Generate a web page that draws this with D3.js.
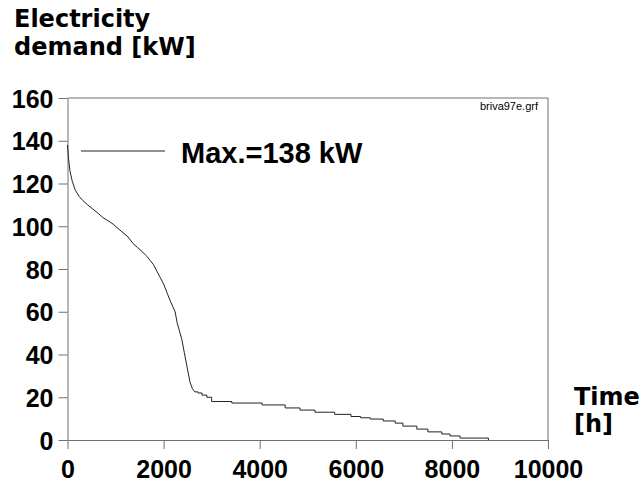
<!DOCTYPE html>
<html>
<head>
<meta charset="utf-8">
<script src="https://cdn.jsdelivr.net/npm/d3@7"></script>
<style>
  html, body { margin: 0; padding: 0; background: #fff; }
  svg { display: block; font-family: "Liberation Sans", Arial, Helvetica, sans-serif; }
  .big { font-weight: bold; fill: #000; }
  .title { font-family: "DejaVu Sans", sans-serif; font-weight: bold; fill: #000; }
</style>
</head>
<body>
<div id="chart"></div>
<script>
// Load duration curve (hours sorted by demand)
const hours = [0, 20, 50, 100, 160, 240, 320, 420, 530, 640, 740, 850, 950, 1050, 1155,
  1260, 1360, 1460, 1560, 1650, 1720, 1790, 1860, 1930, 2000, 2070, 2140, 2200, 2240,
  2280, 2330, 2380, 2430, 2490, 2550, 2600, 2650,
  2720, 2800, 2900, 3000, 3420, 4050, 4530, 4840, 5150, 5560, 5900, 6100, 6300, 6570,
  6820, 6980, 7270, 7500, 7790, 7960, 8170, 8760];
const demand = [138, 132, 126, 121, 117, 114, 112, 110, 108, 106, 104, 102.5, 101, 99, 97,
  95, 92, 90, 88, 86, 84, 82, 79, 76, 73, 69, 65, 62, 60,
  55, 51, 47, 41, 34, 27, 24, 22.5,
  22, 21, 20, 18, 17.3, 16.4, 15, 14, 13, 12, 11, 10.4, 9.8, 8.9,
  7.9, 6.5, 5.1, 3.8, 2.8, 1.9, 0.9, 0];
const stepFrom = 2650; // hourly steps become visible from here on

const xTicks = [0, 2000, 4000, 6000, 8000, 10000];
const yTicks = [0, 20, 40, 60, 80, 100, 120, 140, 160];

const width = 640, height = 489;
const mLeft = 67.5, mRight = 548, mTop = 98, mBottom = 440;
const axisColor = "#707070";

const svg = d3.select("#chart").append("svg")
  .attr("width", width).attr("height", height);

const x = d3.scaleLinear().domain([0, 10000]).range([mLeft, mRight]);
const y = d3.scaleLinear().domain([0, 160]).range([mBottom, mTop]);
const fmt = d3.format("d");

// frame (top + right)
svg.append("path")
  .attr("d", `M${mLeft},${mTop}H${mRight}V${mBottom}`)
  .attr("fill", "none")
  .attr("stroke", axisColor);

// y axis
const gy = svg.append("g")
  .attr("transform", `translate(${mLeft},0)`)
  .call(d3.axisLeft(y).tickValues(yTicks).tickFormat(fmt)
    .tickSize(9).tickPadding(5).tickSizeOuter(0));
gy.select(".domain").attr("stroke", axisColor);
gy.selectAll(".tick line").attr("stroke", axisColor);
gy.selectAll(".tick text")
  .attr("class", "big")
  .attr("font-size", 25)
  .attr("font-family", null)
  .attr("dy", "0.36em");

// x axis
const gx = svg.append("g")
  .attr("transform", `translate(0,${mBottom})`)
  .call(d3.axisBottom(x).tickValues(xTicks).tickFormat(fmt)
    .tickSize(9).tickPadding(4).tickSizeOuter(0));
gx.select(".domain").attr("stroke", axisColor);
gx.selectAll(".tick line").attr("stroke", axisColor);
gx.selectAll(".tick text")
  .attr("class", "big")
  .attr("font-size", 25)
  .attr("font-family", null)
  .attr("y", 38)
  .attr("dy", 0);

// curve
const pts = hours.map((h, i) => ({ h, v: demand[i] }));
const head = pts.filter(d => d.h <= stepFrom);
const tail = pts.filter(d => d.h >= stepFrom);

svg.append("path")
  .datum(head)
  .attr("fill", "none")
  .attr("stroke", "#222")
  .attr("stroke-width", 1)
  .attr("d", d3.line().x(d => x(d.h)).y(d => y(d.v)));

svg.append("path")
  .datum(tail)
  .attr("fill", "none")
  .attr("stroke", "#222")
  .attr("stroke-width", 1)
  .attr("d", d3.line().curve(d3.curveStepAfter).x(d => x(d.h)).y(d => y(d.v)));

// legend
svg.append("line")
  .attr("x1", 81).attr("x2", 165)
  .attr("y1", 151).attr("y2", 151)
  .attr("stroke", "#222");
svg.append("text")
  .attr("class", "big")
  .attr("x", 181).attr("y", 163)
  .attr("font-size", 29)
  .text("Max.=138 kW");

// file name
svg.append("text")
  .attr("x", 538).attr("y", 110)
  .attr("text-anchor", "end")
  .attr("font-size", 11)
  .text("briva97e.grf");

// axis titles
const yTitle = svg.append("text").attr("class", "title").attr("font-size", 24);
yTitle.append("tspan").attr("x", 14).attr("y", 27).text("Electricity");
yTitle.append("tspan").attr("x", 14).attr("y", 55).text("demand [kW]");

const xTitle = svg.append("text").attr("class", "title").attr("font-size", 24);
xTitle.append("tspan").attr("x", 574).attr("y", 405).text("Time");
xTitle.append("tspan").attr("x", 574).attr("y", 432).text("[h]");
</script>
</body>
</html>
